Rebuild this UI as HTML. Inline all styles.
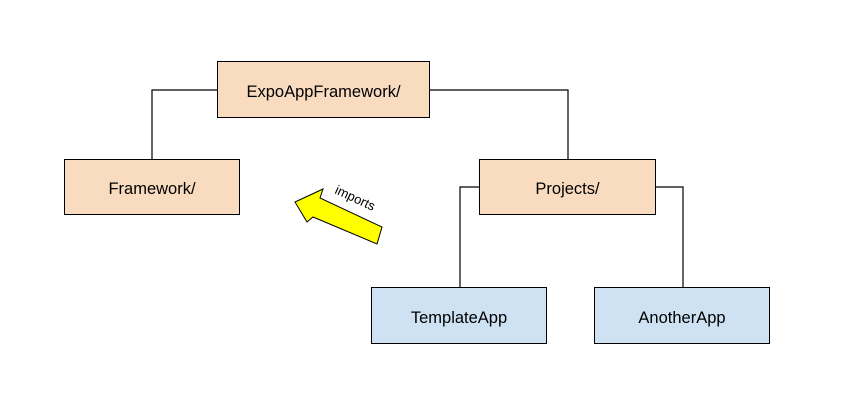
<!DOCTYPE html>
<html><head><style>
body{margin:0;width:849px;height:417px;background:#fff;position:relative;font-family:"Liberation Sans",Arial,sans-serif;overflow:hidden}
.b{position:absolute;border:1px solid #000;display:flex;align-items:center;justify-content:center;font-size:16.5px;color:#000;box-sizing:border-box;padding-top:5px}
.o{background:#f9dbbf}.bl{background:#cfe2f3}
</style></head><body>
<svg width="849" height="417" style="position:absolute;left:0;top:0">
<g stroke="#000" stroke-width="1.2" fill="none">
<polyline points="218,90 152,90 152,159"/>
<polyline points="430,90 568,90 568,159"/>
<polyline points="480,187 460,187 460,288"/>
<polyline points="656,187 683,187 683,288"/>
</g>
<polygon points="295,202 323,189 320,198 382,227 377,244 313,217 307,222" fill="#ffff00" stroke="#000" stroke-width="1"/>
<text x="0" y="0" transform="translate(334,193) rotate(25)" font-family="Liberation Sans,Arial,sans-serif" font-size="13">imports</text>
</svg>
<div class="b o" style="left:217px;top:61px;width:213px;height:57px">ExpoAppFramework/</div>
<div class="b o" style="left:64px;top:159px;width:176px;height:56px">Framework/</div>
<div class="b o" style="left:479px;top:159px;width:177px;height:56px">Projects/</div>
<div class="b bl" style="left:371px;top:287px;width:176px;height:57px">TemplateApp</div>
<div class="b bl" style="left:594px;top:287px;width:176px;height:57px">AnotherApp</div>
</body></html>
